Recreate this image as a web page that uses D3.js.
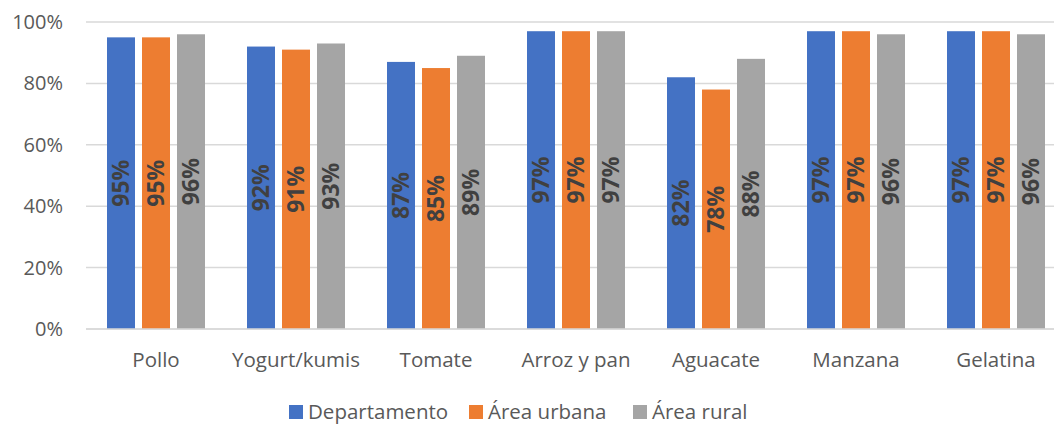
<!DOCTYPE html>
<html>
<head>
<meta charset="utf-8">
<script src="https://cdn.jsdelivr.net/npm/d3@7"></script>
<style>
  body { margin: 0; background: #fff; }
  svg { display: block; }
</style>
</head>
<body>
<div class="canva"><svg width="1054" height="425"></svg></div>
<script>
// data
const categories = ["Pollo", "Yogurt/kumis", "Tomate", "Arroz y pan", "Aguacate", "Manzana", "Gelatina"];
const seriesNames = ["Departamento", "Área urbana", "Área rural"];
const departamento = [95, 92, 87, 97, 82, 97, 97];
const urbana = [95, 91, 85, 97, 78, 97, 97];
const rural = [96, 93, 89, 97, 88, 96, 96];
const yTicks = [0, 20, 40, 60, 80, 100];
const colors = ["#4472C4", "#ED7D31", "#A5A5A5"];

const values = [departamento, urbana, rural];
const font = "'Open Sans', sans-serif";

const svg = d3.select(".canva").select("svg");

const x0 = d3.scaleBand().domain(categories).range([86, 1066]).padding(0);
const x1 = d3.scaleBand().domain(seriesNames).range([21, 119]).paddingInner(0.2).paddingOuter(0);
const y = d3.scaleLinear().domain([0, 100]).range([329, 22]);

// gridlines
svg.append("g")
  .selectAll("line")
  .data(yTicks)
  .enter().append("line")
  .attr("x1", 86)
  .attr("x2", 1066)
  .attr("y1", d => y(d))
  .attr("y2", d => y(d))
  .attr("stroke", "#D9D9D9")
  .attr("stroke-width", 1.5);

// y axis labels
const yAxis = svg.append("g")
  .attr("transform", "translate(63,0)")
  .call(d3.axisLeft(y).tickValues(yTicks).tickFormat(d => d + "%").tickSize(0).tickPadding(0));
yAxis.select(".domain").remove();
yAxis.selectAll("text")
  .attr("font-family", font)
  .attr("font-size", 20)
  .attr("fill", "#595959");

// bars
const groups = svg.append("g")
  .selectAll("g")
  .data(categories)
  .enter().append("g")
  .attr("transform", d => "translate(" + x0(d) + ",0)");

groups.selectAll("rect")
  .data((d, i) => seriesNames.map((s, j) => ({ s: s, v: values[j][i], j: j })))
  .enter().append("rect")
  .attr("x", d => x1(d.s))
  .attr("width", x1.bandwidth())
  .attr("y", d => y(d.v))
  .attr("height", d => y(0) - y(d.v))
  .attr("fill", d => colors[d.j]);

// value labels, rotated in the middle of the bar
groups.selectAll("text")
  .data((d, i) => seriesNames.map((s, j) => ({ s: s, v: values[j][i], j: j })))
  .enter().append("text")
  .text(d => d.v + "%")
  .attr("transform", d => {
    const cx = x1(d.s) + x1.bandwidth() / 2;
    const cy = (y(d.v) + y(0)) / 2;
    return "translate(" + cx + "," + cy + ") rotate(-90)";
  })
  .attr("text-anchor", "middle")
  .attr("dy", "0.36em")
  .attr("font-family", font)
  .attr("font-weight", "bold")
  .attr("font-size", 23)
  .attr("fill", "#404040");

// x axis line + labels
svg.append("line")
  .attr("x1", 86).attr("x2", 1066)
  .attr("y1", y(0)).attr("y2", y(0))
  .attr("stroke", "#D9D9D9")
  .attr("stroke-width", 1.5);

const xAxis = svg.append("g")
  .attr("transform", "translate(0,352)")
  .call(d3.axisBottom(x0).tickSize(0).tickPadding(0));
xAxis.select(".domain").remove();
xAxis.selectAll("text")
  .attr("font-family", font)
  .attr("font-size", 20.5)
  .attr("fill", "#595959");

// legend
const legendX = [289, 469, 633];
const legend = svg.append("g")
  .selectAll("g")
  .data(seriesNames)
  .enter().append("g")
  .attr("transform", (d, i) => "translate(" + legendX[i] + ",405)");
legend.append("rect")
  .attr("width", 14).attr("height", 14)
  .attr("fill", (d, i) => colors[i]);
legend.append("text")
  .text(d => d)
  .attr("x", 19)
  .attr("y", 14)
  .attr("font-family", font)
  .attr("font-size", 20.5)
  .attr("fill", "#595959");
</script>
</body>
</html>
